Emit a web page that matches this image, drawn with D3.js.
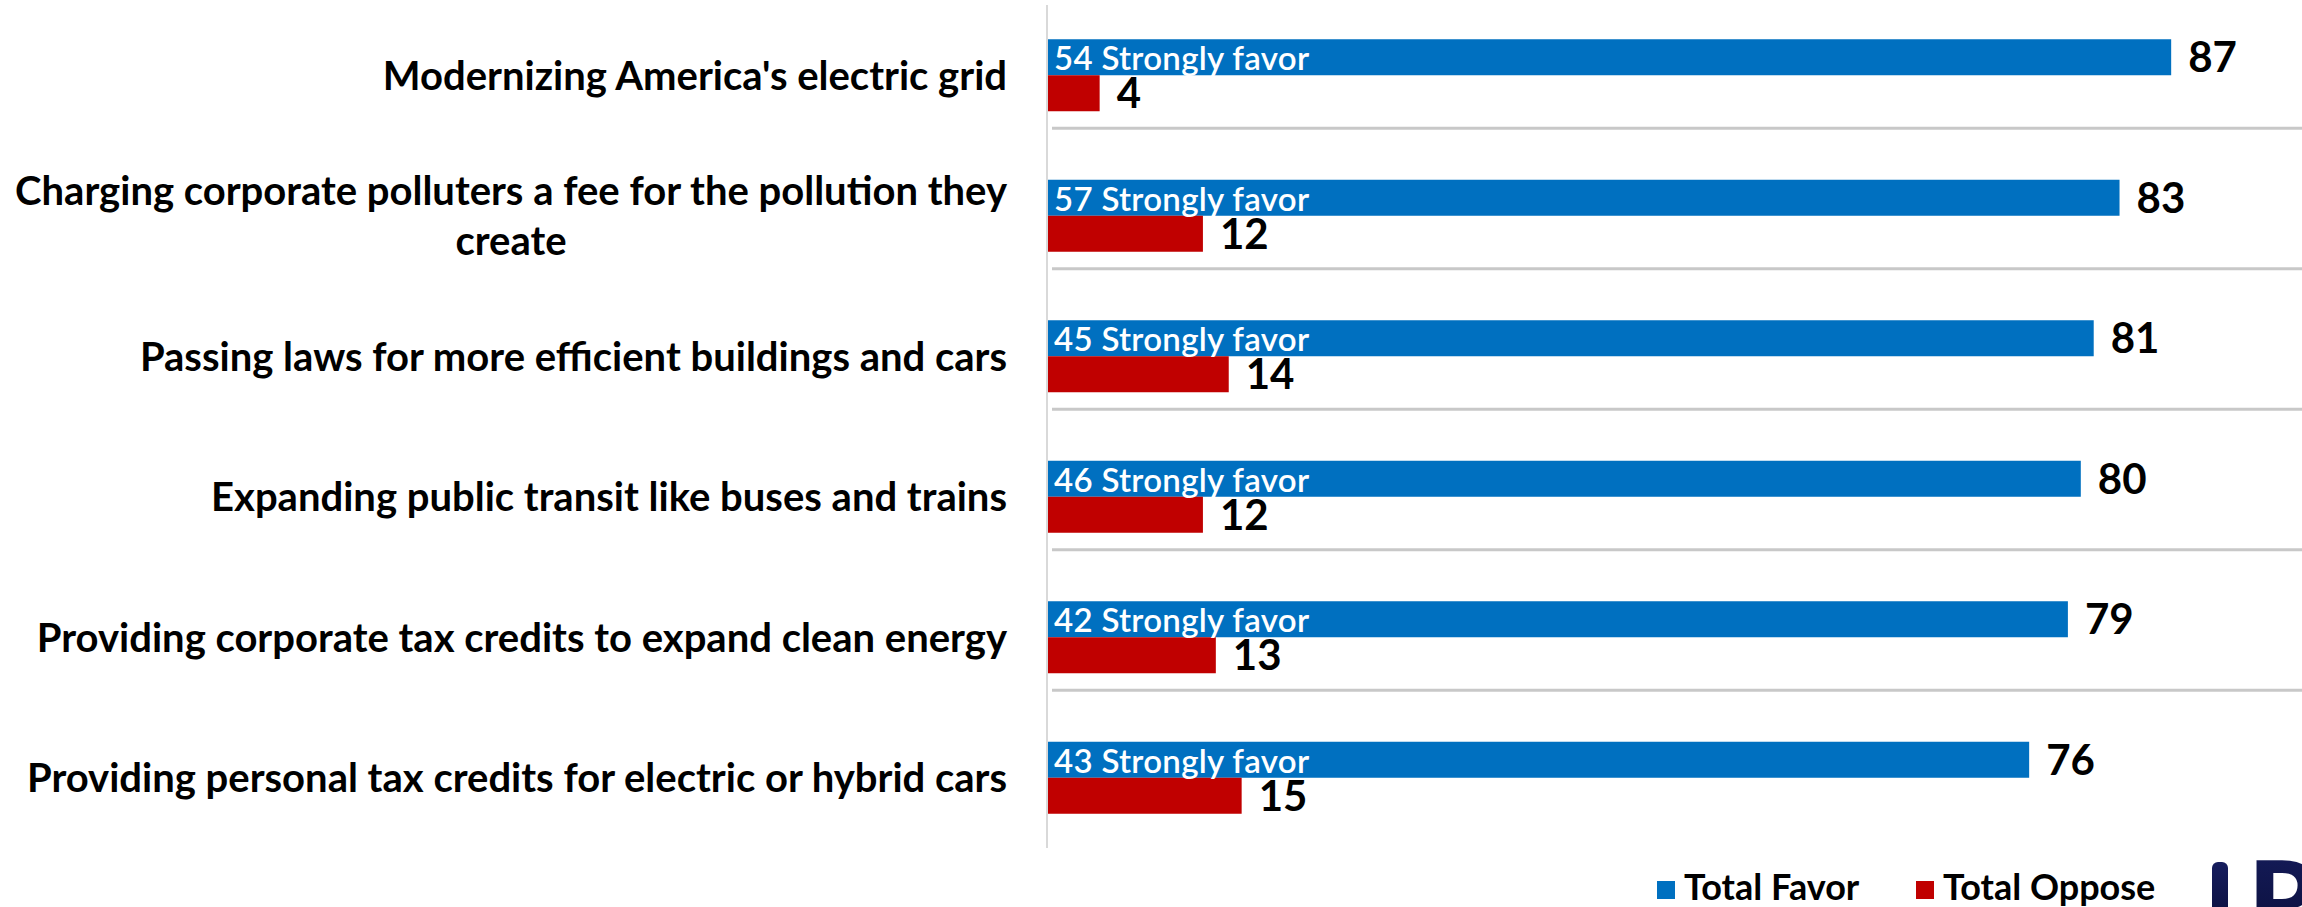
<!DOCTYPE html>
<html lang="en">
<head>
<meta charset="utf-8">
<title>Support for climate policies</title>
<script src="https://d3js.org/d3.v7.min.js"></script>
<style>
  body { margin: 0; background: #fff; }
  text { font-family: Lato, "Open Sans", sans-serif; }
</style>
</head>
<body>
<script>

// data
var categories = [
  "Modernizing America's electric grid",
  "Charging corporate polluters a fee for the pollution they create",
  "Passing laws for more efficient buildings and cars",
  "Expanding public transit like buses and trains",
  "Providing corporate tax credits to expand clean energy",
  "Providing personal tax credits for electric or hybrid cars"
];
var totalFavor = [87, 83, 81, 80, 79, 76];
var totalOppose = [4, 12, 14, 12, 13, 15];
var stronglyFavor = [54, 57, 45, 46, 42, 43];
var seriesNames = ["Total Favor", "Total Oppose"];
var seriesColors = ["#0070C0", "#C00000"];

var w = 2302, h = 907;

var svg = d3.select("body").append("svg")
  .attr("width", w)
  .attr("height", h);

var x = d3.scaleLinear().domain([0, 100]).range([1048, 2339]);
var y = d3.scaleBand().domain(categories).range([5, 848]);
var barH = 36;

var rows = categories.map(function(c, i) {
  return { cat: c, favor: totalFavor[i], oppose: totalOppose[i], strong: stronglyFavor[i] };
});

// separators between rows
svg.selectAll("line.sep")
  .data(rows.slice(0, rows.length - 1))
  .enter().append("line")
  .attr("class", "sep")
  .attr("x1", 1052).attr("x2", w)
  .attr("y1", function(d) { return y(d.cat) + y.bandwidth() / 2 + 53; })
  .attr("y2", function(d) { return y(d.cat) + y.bandwidth() / 2 + 53; })
  .attr("stroke", "#c8c8c8")
  .attr("stroke-width", 3);

// vertical axis line
svg.append("line")
  .attr("x1", x(0) - 1).attr("x2", x(0) - 1)
  .attr("y1", y.range()[0]).attr("y2", y.range()[1])
  .attr("stroke", "#d9d9d9")
  .attr("stroke-width", 2);

var g = svg.selectAll("g.row")
  .data(rows)
  .enter().append("g")
  .attr("class", "row")
  .attr("transform", function(d) { return "translate(0," + (y(d.cat) + y.bandwidth() / 2) + ")"; });

// favor bars
g.append("rect")
  .attr("x", x(0))
  .attr("y", -barH)
  .attr("width", function(d) { return x(d.favor) - x(0); })
  .attr("height", barH)
  .attr("fill", seriesColors[0]);

// oppose bars
g.append("rect")
  .attr("x", x(0))
  .attr("y", 0)
  .attr("width", function(d) { return x(d.oppose) - x(0); })
  .attr("height", barH)
  .attr("fill", seriesColors[1]);

// strongly favor label inside the blue bar
g.append("text")
  .attr("x", x(0) + 6)
  .attr("y", -5)
  .attr("fill", "#fff")
  .attr("font-size", 33)
  .attr("font-weight", 600)
  .attr("letter-spacing", 0.3)
  .text(function(d) { return d.strong + " Strongly favor"; });

// value labels
g.append("text")
  .attr("x", function(d) { return x(d.favor) + 17; })
  .attr("y", -barH / 2)
  .attr("dy", "0.36em")
  .attr("font-size", 42)
  .attr("font-weight", 700)
  .text(function(d) { return d.favor; });

g.append("text")
  .attr("x", function(d) { return x(d.oppose) + 17; })
  .attr("y", barH / 2)
  .attr("dy", "0.36em")
  .attr("font-size", 42)
  .attr("font-weight", 700)
  .text(function(d) { return d.oppose; });

// category labels, wrapped and centred as a block ending at the right edge
var labelRight = 1007, maxW = 1010, lineH = 50;
g.each(function(d) {
  var t = d3.select(this).append("text")
    .attr("font-size", 40)
    .attr("font-weight", 700)
    .attr("text-anchor", "middle");
  var words = d.cat.split(" "), lines = [], cur = [];
  var probe = t.append("tspan");
  words.forEach(function(wd) {
    cur.push(wd);
    probe.text(cur.join(" "));
    if (probe.node().getComputedTextLength() > maxW && cur.length > 1) {
      cur.pop();
      lines.push(cur.join(" "));
      cur = [wd];
    }
  });
  lines.push(cur.join(" "));
  probe.remove();
  var widest = 0;
  lines.forEach(function(l) {
    probe = t.append("tspan").text(l);
    widest = Math.max(widest, probe.node().getComputedTextLength());
    probe.remove();
  });
  var cx = labelRight - widest / 2;
  var y0 = -(lines.length - 1) * lineH / 2;
  lines.forEach(function(l, i) {
    t.append("tspan")
      .attr("x", cx)
      .attr("y", y0 + i * lineH)
      .attr("dy", "0.36em")
      .text(l);
  });
});

// legend
var legX = [1657, 1916];
var leg = svg.selectAll("g.leg")
  .data(seriesNames)
  .enter().append("g")
  .attr("class", "leg")
  .attr("transform", function(d, i) { return "translate(" + legX[i] + ",881)"; });
leg.append("rect")
  .attr("width", 18).attr("height", 18)
  .attr("fill", function(d, i) { return seriesColors[i]; });
leg.append("text")
  .attr("x", 27).attr("y", 19)
  .attr("font-size", 36)
  .attr("font-weight", 700)
  .text(function(d) { return d; });

// partial logo at the bottom right corner
var grad = svg.append("defs").append("linearGradient")
  .attr("id", "navy").attr("x1", 0).attr("y1", 0).attr("x2", 0).attr("y2", 1);
grad.append("stop").attr("offset", "0%").attr("stop-color", "#161d5e");
grad.append("stop").attr("offset", "100%").attr("stop-color", "#080c33");
svg.append("rect")
  .attr("x", 2212).attr("y", 862).attr("width", 16).attr("height", 80)
  .attr("rx", 6).attr("fill", "url(#navy)");
svg.append("text")
  .attr("x", 2248).attr("y", 942)
  .attr("font-size", 112)
  .attr("font-weight", 900)
  .attr("fill", "url(#navy)")
  .text("R");

</script>
</body>
</html>
